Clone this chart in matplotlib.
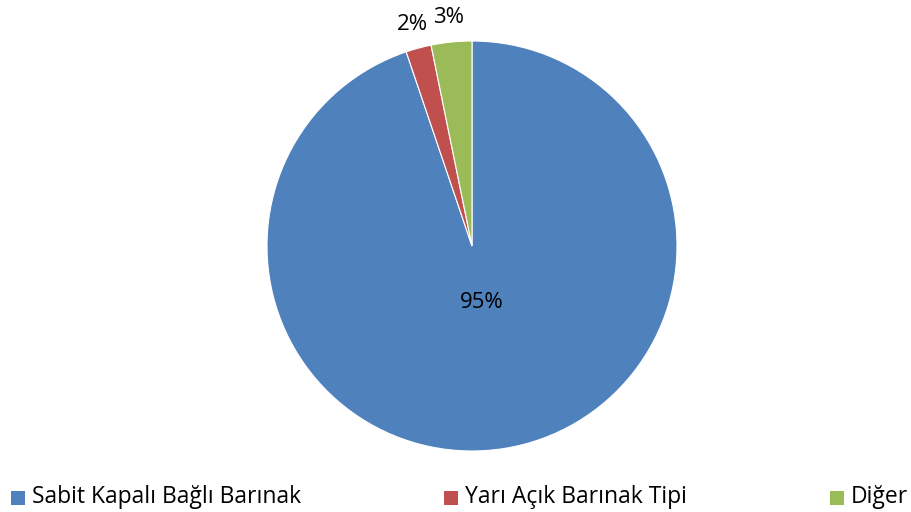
import numpy as np
import matplotlib
matplotlib.use("Agg")
import matplotlib.pyplot as plt
from matplotlib.patches import Rectangle

categories = ["Sabit Kapalı Bağlı Barınak", "Yarı Açık Barınak Tipi", "Diğer"]
values = [94.8, 2.0, 3.2]
pct_labels = ["95%", "2%", "3%"]
colors = ["#4F81BD", "#C0504D", "#9BBB59"]

plt.rcParams['font.family'] = ['Open Sans', 'DejaVu Sans']

W, H = 912, 512
fig = plt.figure(figsize=(W/100, H/100), dpi=100)
ax = fig.add_axes([0, 0, 1, 1])
cx, cy, R = 472, H - 246, 205
wedges, _ = ax.pie(values, colors=colors, startangle=90, counterclock=False,
                   center=(cx, cy), radius=R,
                   wedgeprops=dict(edgecolor="white", linewidth=0.8))
ax.set_xlim(0, W)
ax.set_ylim(0, H)
ax.set_aspect("equal")
ax.axis("off")

for w, lab in zip(wedges, pct_labels):
    mid = np.deg2rad((w.theta1 + w.theta2) / 2)
    frac = (w.theta2 - w.theta1) / 360
    d = 0.28 if frac > 0.5 else 1.12
    ax.text(cx + np.cos(mid) * R * d, cy + np.sin(mid) * R * d, lab,
            ha="center", va="center", fontsize=16, color="black")

leg_x = [11, 444, 830]
for x, c, name in zip(leg_x, colors, categories):
    fig.patches.append(Rectangle((x / W, (H - 505) / H), 14 / W, 14 / H,
                                 transform=fig.transFigure, facecolor=c,
                                 edgecolor="none"))
    fig.text((x + 21) / W, (H - 497) / H, name, ha="left", va="center",
             fontsize=16.5, color="black")

fig.savefig("out.png", dpi=100)
